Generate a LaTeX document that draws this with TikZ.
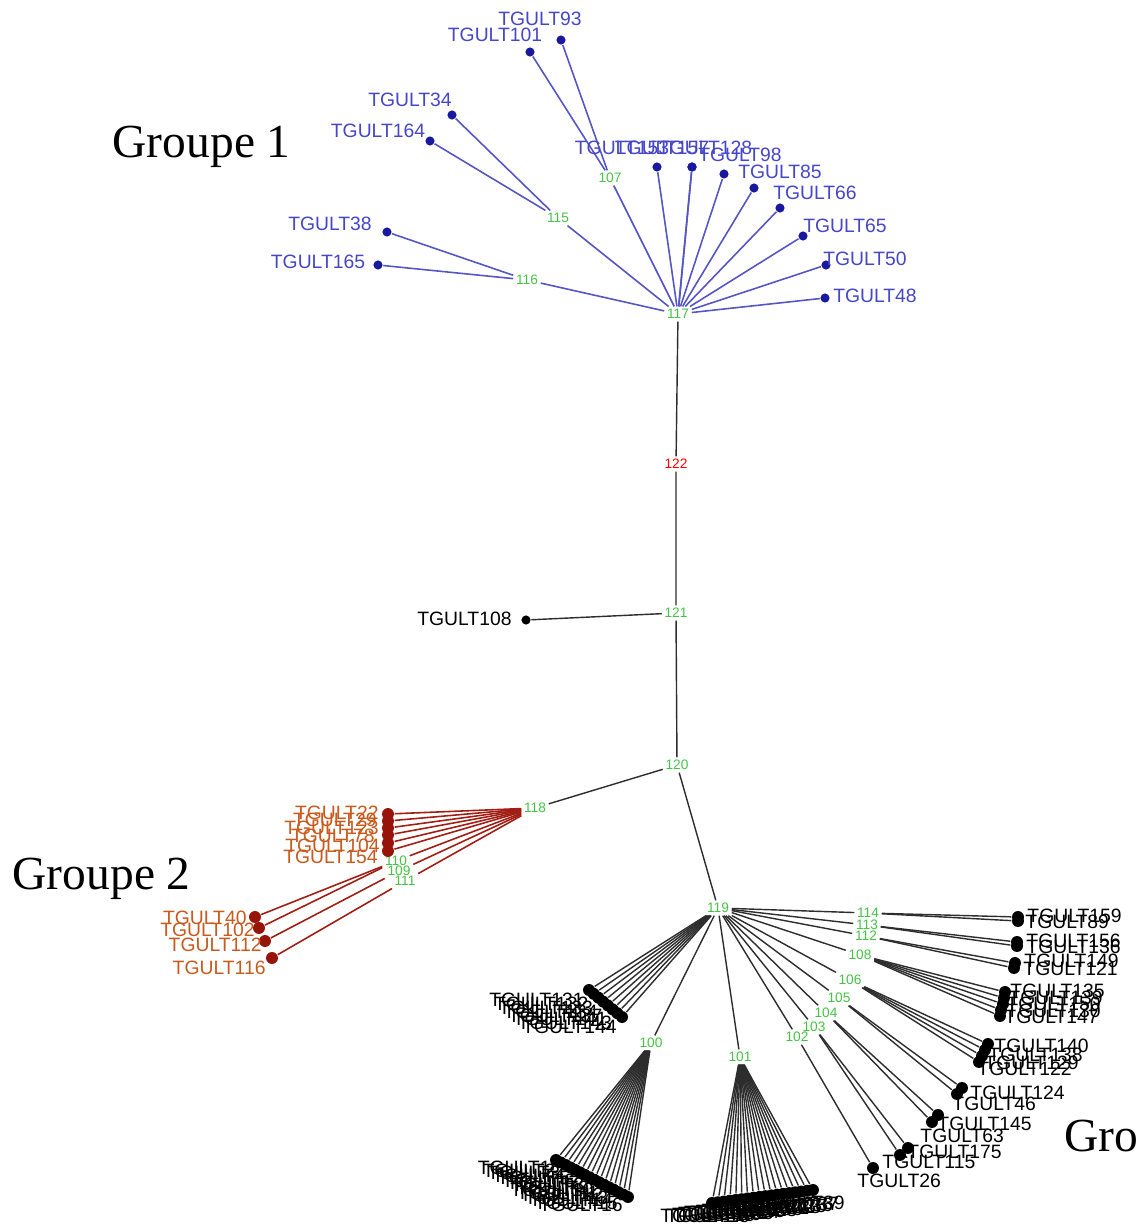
\documentclass[tikz,border=0pt]{standalone}
\usepackage{fontspec}
\setmainfont{Liberation Serif}
\setsansfont{Liberation Sans}
\usepackage{xcolor}
\usepackage{tikz}
\usetikzlibrary{calc}

\definecolor{dotblue}{RGB}{25,25,160}
\definecolor{lineblue}{RGB}{85,85,195}
\definecolor{textblue}{RGB}{70,70,200}
\definecolor{dotred}{RGB}{150,20,10}
\definecolor{linered}{RGB}{160,30,20}
\definecolor{textred}{RGB}{200,90,30}
\definecolor{numgreen}{RGB}{70,195,70}
\definecolor{linegray}{RGB}{45,45,45}

\tikzset{
  leaf/.style={circle,fill,inner sep=0pt,minimum size=2.6pt},
  fanleaf/.style={circle,fill,inner sep=0pt,minimum size=3.4pt},
  hub/.style={inner sep=0.6pt,text=numgreen,font=\fontsize{3.9}{4.5}\selectfont\sffamily},
  tag/.style={inner sep=0.5pt,font=\fontsize{5.5}{6}\selectfont\sffamily},
  grouplabel/.style={anchor=base west,inner sep=0pt,font=\fontsize{13.5}{15}\selectfont},
  bluelink/.style={lineblue,line width=0.45pt},
  redlink/.style={linered,line width=0.45pt},
  link/.style={linegray,line width=0.4pt}
}

\begin{document}
\begin{tikzpicture}[x=0.01cm,y=-0.01cm]
\useasboundingbox (0,0) rectangle (1135,1230);
% Group names
\node[grouplabel] (g1) at (112,157) {Groupe 1};
\node[grouplabel] (g2) at (12,889) {Groupe 2};
\node[grouplabel] (g3) at (1064,1151) {Groupe 3};
% Spine
\node[hub] (n117) at (678,314) {117};
\node[hub,text=red] (n122) at (676,464) {122};
\node[hub] (n121) at (676,613) {121};
\node[hub] (n120) at (677,765) {120};
\node[hub] (n119) at (718,908) {119};
\node[hub] (n118) at (535,808) {118};
\draw[link] (n117) -- (n122) -- (n121) -- (n120) -- (n119);
\draw[link] (n120) -- (n118);
\node[leaf] (t108) at (526,620) {};
\node[tag,anchor=east] (l108) at (514,619) {TGULT108};
\draw[link] (t108) -- (n121);
% Group 1
\node[hub] (n107) at (610,178) {107};
\node[hub] (n115) at (558,218) {115};
\node[hub] (n116) at (527,280) {116};
\foreach \h in {n107,n115,n116}
    \draw[bluelink] (\h) -- (n117);
\foreach \id/\x/\y/\lx/\ly/\h in {93/561/40/540/19/n107, 101/530/52/495/35/n107,
    34/452/115/410/100/n115, 164/430/141/378/131/n115,
    38/387/232/330/224/n116, 165/378/265/318/262/n116,
    153/657/167/622/148/n117, 157/692/167/662/148/n117, 128/692/167/705/148/n117,
    98/724/174/740/155/n117, 85/754/188/780/172/n117, 66/780/208/815/193/n117,
    65/803/236/845/226/n117, 50/826/265/865/259/n117, 48/825/298/875/296/n117}{
  \node[leaf,dotblue] (t\id) at (\x,\y) {};
  \node[tag,text=textblue] (l\id) at (\lx,\ly) {TGULT\id};
  \draw[bluelink] (t\id) -- (\h);
}
% Group 2
\node[hub] (n110) at (396,861) {110};
\node[hub] (n109) at (399,871) {109};
\node[hub] (n111) at (405,881) {111};
\foreach \h in {n110,n109,n111}
    \draw[redlink] (\h) -- (n118);
\foreach \id/\y/\lx/\ly in {22/814/381/813, 29/821/379/820, 123/828/381/828,
    78/835/377/836, 104/843/382/846, 154/851/380/857}{
  \node[fanleaf,dotred] (t\id) at (388,\y) {};
  \node[tag,text=textred,anchor=east] (l\id) at (\lx,\ly) {TGULT\id};
  \draw[redlink] (t\id) -- (n118);
}
\foreach \id/\x/\y/\lx/\ly/\h in {40/255/917/249/918/n110, 102/259/928/257/930/n110,
    112/265/941/264/945/n109, 116/272/958/268/968/n111}{
  \node[fanleaf,dotred] (t\id) at (\x,\y) {};
  \node[tag,text=textred,anchor=east] (l\id) at (\lx,\ly) {TGULT\id};
  \draw[redlink] (t\id) -- (\h);
}
% Group 3
\node[hub] (n114) at (868,913) {114};
\node[hub] (n113) at (867,925) {113};
\node[hub] (n112) at (866,936) {112};
\node[hub] (n108) at (860,955) {108};
\node[hub] (n106) at (850,980) {106};
\node[hub] (n105) at (839,998) {105};
\node[hub] (n104) at (826,1013) {104};
\node[hub] (n103) at (814,1027) {103};
\node[hub] (n102) at (797,1037) {102};
\node[hub] (n100) at (651,1043) {100};
\node[hub] (n101) at (740,1057) {101};
\foreach \h in {n114,n113,n112,n108,n106,n105,n104,n103,n102,n100,n101}
    \draw[link] (n119) -- (\h);
\foreach \id/\x/\y/\lx/\ly/\h in {159/1018/917/1025/916/n114, 89/1018/921/1023/922/n114,
    156/1017/942/1024/941/n113, 136/1017/946/1024/947/n113,
    149/1015/963/1022/961/n112, 121/1014/968/1021/969/n112,
    135/1005/992/1008/991/n108, 139/1004/998/1006/998/n108, 150/1003/1004/1004/1004/n108,
    130/1001/1010/1004/1011/n108, 147/1000/1016/1002/1017/n108,
    140/988/1044/992/1046/n106, 138/985/1050/986/1055/n106, 129/982/1056/982/1063/n106,
    122/979/1062/975/1069/n106,
    124/962/1088/968/1093/n105, 46/957/1094/950/1104/n105,
    145/938/1115/935/1124/n104, 63/932/1122/918/1136/n104,
    175/908/1148/905/1152/n103, 115/900/1155/880/1162/n103,
    26/873/1168/855/1181/n102}{
  \node[fanleaf] (t\id) at (\x,\y) {};
  \node[tag,anchor=west] (l\id) at (\lx,\ly) {TGULT\id};
  \draw[link] (t\id) -- (\h);
}
% Group 3, fans
\coordinate (c119a) at (589,990);
\coordinate (c119b) at (622,1017);
\foreach \id [count=\i from 0] in {131,132,133,134,137,141,143,144}{
  \node[fanleaf] (t\id) at ($(c119a)!\i/7!(c119b)$) {};
  \node[tag,anchor=east] (l\id) at ($(t\id)+(-3,10)$) {TGULT\id};
  \draw[link] (t\id) -- (n119);
}
\coordinate (c100a) at (556,1160);
\coordinate (c100b) at (628,1197);
\foreach \id [count=\i from 0] in {1,2,3,4,5,6,7,8,9,10,11,12,13,14,15,16}{
  \node[fanleaf] (t\id) at ($(c100a)!\i/15!(c100b)$) {};
  \node[tag,anchor=east] (l\id) at ($(t\id)+(-3,8)$) {TGULT\id};
  \draw[link] (t\id) -- (n100);
}
\coordinate (c101a) at (712,1203);
\coordinate (c101b) at (813,1190);
\foreach \id [count=\i from 0] in {17,18,19,20,21,23,24,25,27,28,30,31,32,33,35,36,37,39}{
  \node[fanleaf] (t\id) at ($(c101a)!\i/17!(c101b)$) {};
  \node[tag,anchor=north] (l\id) at ($(t\id)+(-10,4)$) {TGULT\id};
  \draw[link] (t\id) -- (n101);
}
\end{tikzpicture}
\end{document}
